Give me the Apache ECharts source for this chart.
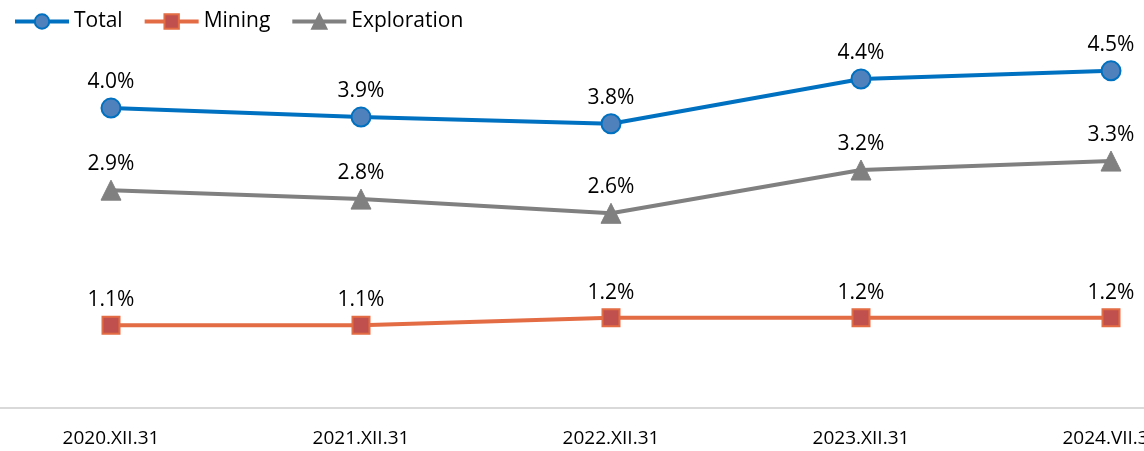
<!DOCTYPE html>
<html>
<head>
<meta charset="utf-8">
<script src="https://cdn.jsdelivr.net/npm/echarts@6/dist/echarts.min.js"></script>
<style>
  html, body { margin: 0; padding: 0; background: #fff; }
  #chart { width: 1144px; height: 451px; }
</style>
</head>
<body>
<div id="chart"></div>
<script>
// 数据
const categories = ["2020.XII.31", "2021.XII.31", "2022.XII.31", "2023.XII.31", "2024.VII.31"];
const totalData = [4.02, 3.90, 3.81, 4.41, 4.52];
const miningData = [1.11, 1.11, 1.21, 1.21, 1.21];
const explorationData = [2.92, 2.80, 2.61, 3.19, 3.31];

const font = "'Open Sans', 'Noto Sans', sans-serif";

const chart = echarts.init(document.getElementById("chart"));

function labelOpt() {
  return {
    show: true,
    position: "top",
    distance: 5,
    color: "#000",
    fontSize: 21,
    fontFamily: font,
    formatter: (p) => p.value.toFixed(1) + "%",
  };
}

const option = {
  animation: false,
  legend: {
    left: 8,
    top: 6,
    itemWidth: 54,
    itemHeight: 18,
    itemGap: 20,
    lineStyle: { width: 4 },
    textStyle: { fontSize: 21, fontFamily: font, color: "#000" },
    data: ["Total", "Mining", "Exploration"],
  },
  // 网格超出画布，让最后一个标签被裁掉
  grid: { left: -14, width: 1250, top: 35, bottom: 43, outerBoundsMode: "none", containLabel: false },
  xAxis: {
    type: "category",
    data: categories,
    boundaryGap: true,
    axisLine: { lineStyle: { color: "#d9d9d9", width: 2 } },
    axisTick: { show: false },
    axisLabel: {
      color: "#000",
      fontSize: 19,
      fontFamily: font,
      margin: 21,
    },
  },
  yAxis: {
    type: "value",
    min: 0,
    max: 5,
    show: false,
    splitLine: { show: false },
  },
  series: [
    {
      name: "Total",
      type: "line",
      data: totalData,
      symbol: "circle",
      symbolSize: 19,
      lineStyle: { color: "#0070C0", width: 4 },
      itemStyle: { color: "#4F81BD", borderColor: "#0070C0", borderWidth: 2 },
      label: labelOpt(),
    },
    {
      name: "Mining",
      type: "line",
      data: miningData,
      symbol: "rect",
      symbolSize: 17,
      lineStyle: { color: "#E46C44", width: 4 },
      itemStyle: { color: "#C0504D", borderColor: "#E46C44", borderWidth: 2 },
      label: labelOpt(),
    },
    {
      name: "Exploration",
      type: "line",
      data: explorationData,
      symbol: "triangle",
      symbolSize: 20,
      lineStyle: { color: "#808080", width: 4 },
      itemStyle: { color: "#808080", borderColor: "#808080", borderWidth: 1 },
      label: labelOpt(),
    },
  ],
};

chart.setOption(option);
</script>
</body>
</html>
